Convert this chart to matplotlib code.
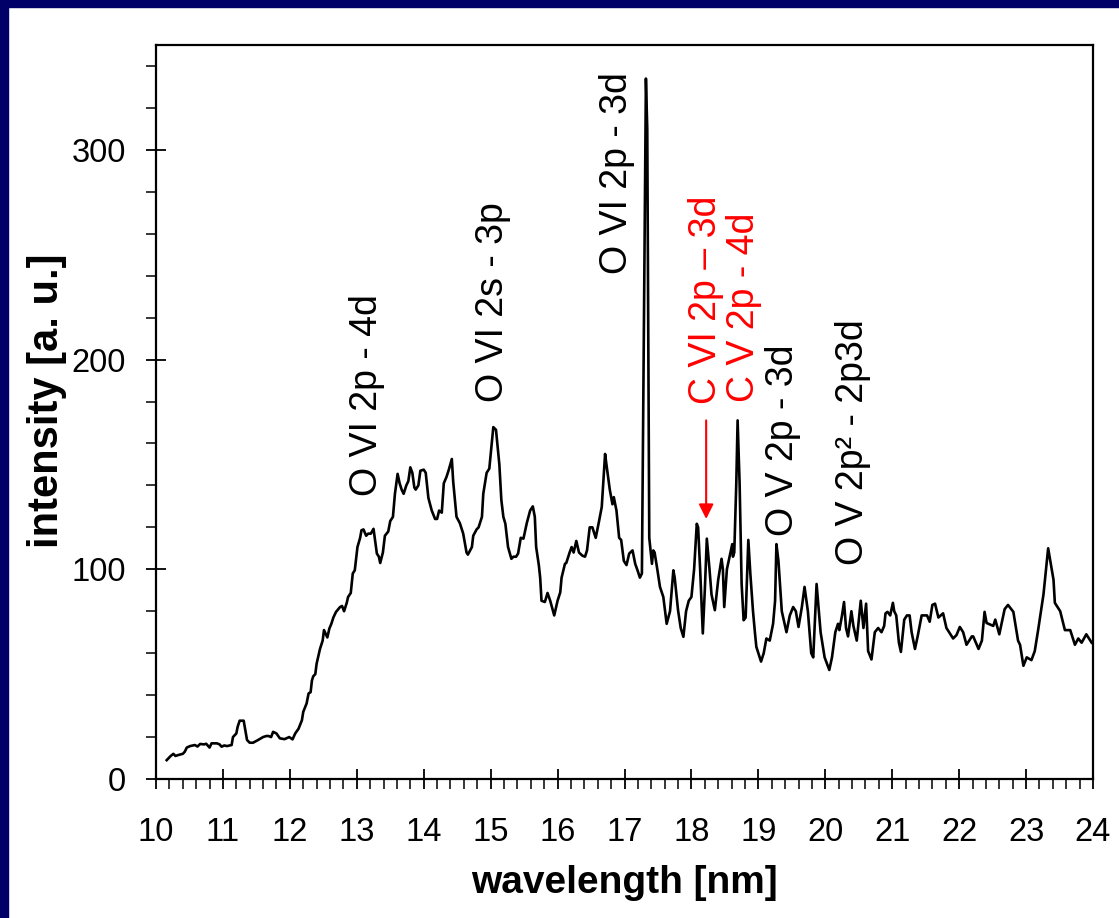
import matplotlib
matplotlib.use("Agg")
import matplotlib.pyplot as plt
from matplotlib.patches import Rectangle
from matplotlib.ticker import MultipleLocator

plt.rcParams['font.family'] = ['Liberation Sans', 'DejaVu Sans']

wavelength = [
    10.16, 10.22, 10.26, 10.29, 10.34, 10.40, 10.43, 10.46, 10.51, 10.58, 10.62, 10.66, 10.72, 10.75, 10.80,
    10.83, 10.91, 10.95, 10.98, 11.02, 11.06, 11.13, 11.15, 11.20, 11.22, 11.25, 11.31, 11.36, 11.40, 11.45,
    11.52, 11.60, 11.65, 11.68, 11.72, 11.75, 11.80, 11.85, 11.92, 11.99, 12.04, 12.08, 12.13, 12.18, 12.20,
    12.25, 12.28, 12.31, 12.33, 12.35, 12.38, 12.40, 12.45, 12.49, 12.51, 12.56, 12.59, 12.62, 12.65, 12.69,
    12.75, 12.78, 12.81, 12.85, 12.87, 12.91, 12.94, 12.97, 13.01, 13.05, 13.07, 13.10, 13.14, 13.17, 13.21,
    13.25, 13.28, 13.30, 13.33, 13.35, 13.39, 13.42, 13.47, 13.50, 13.54, 13.57, 13.61, 13.64, 13.67, 13.70,
    13.74, 13.77, 13.80, 13.83, 13.86, 13.88, 13.92, 13.95, 14.00, 14.03, 14.07, 14.12, 14.17, 14.20, 14.23,
    14.27, 14.30, 14.34, 14.38, 14.42, 14.44, 14.49, 14.54, 14.59, 14.64, 14.66, 14.72, 14.74, 14.79, 14.82,
    14.87, 14.89, 14.94, 14.98, 15.02, 15.04, 15.08, 15.13, 15.16, 15.19, 15.22, 15.26, 15.31, 15.34, 15.38,
    15.41, 15.45, 15.49, 15.54, 15.59, 15.63, 15.66, 15.68, 15.72, 15.74, 15.76, 15.81, 15.85, 15.89, 15.95,
    16.00, 16.04, 16.06, 16.11, 16.13, 16.18, 16.21, 16.24, 16.28, 16.32, 16.37, 16.41, 16.44, 16.48, 16.52,
    16.57, 16.62, 16.66, 16.71, 16.73, 16.78, 16.82, 16.84, 16.88, 16.92, 16.95, 16.99, 17.03, 17.07, 17.12,
    17.16, 17.20, 17.23, 17.26, 17.32, 17.34, 17.37, 17.41, 17.43, 17.45, 17.49, 17.53, 17.58, 17.63, 17.68,
    17.73, 17.75, 17.80, 17.84, 17.88, 17.92, 17.96, 18.00, 18.04, 18.08, 18.10, 18.13, 18.17, 18.20, 18.23,
    18.27, 18.30, 18.35, 18.40, 18.45, 18.47, 18.49, 18.53, 18.58, 18.61, 18.62, 18.64, 18.67, 18.69, 18.72,
    18.75, 18.78, 18.81, 18.85, 18.88, 18.92, 18.95, 18.97, 19.04, 19.08, 19.12, 19.17, 19.22, 19.25, 19.27,
    19.30, 19.35, 19.42, 19.47, 19.52, 19.56, 19.60, 19.65, 19.69, 19.74, 19.79, 19.82, 19.87, 19.93, 19.99,
    20.06, 20.10, 20.15, 20.19, 20.21, 20.25, 20.28, 20.31, 20.34, 20.39, 20.42, 20.47, 20.53, 20.57, 20.61,
    20.64, 20.69, 20.74, 20.79, 20.84, 20.88, 20.90, 20.93, 20.97, 21.01, 21.03, 21.06, 21.10, 21.13, 21.18,
    21.22, 21.26, 21.29, 21.34, 21.38, 21.44, 21.48, 21.52, 21.56, 21.60, 21.64, 21.69, 21.76, 21.81, 21.91,
    21.96, 22.01, 22.06, 22.11, 22.19, 22.21, 22.29, 22.34, 22.38, 22.41, 22.51, 22.54, 22.60, 22.68, 22.73,
    22.81, 22.88, 22.91, 22.96, 23.01, 23.08, 23.13, 23.18, 23.26, 23.33, 23.41, 23.43, 23.51, 23.58, 23.66,
    23.73, 23.78, 23.83, 23.90, 23.98,
]
intensity = [
    9.0, 11.0, 12.0, 11.0, 11.5, 12.0, 13.0, 15.0, 15.7, 16.2, 15.5, 16.7, 16.5, 16.8, 15.0,
    17.0, 17.0, 16.5, 15.4, 16.0, 15.7, 16.2, 20.0, 21.7, 24.9, 27.8, 27.8, 18.6, 17.3, 17.3,
    18.5, 20.0, 20.5, 20.5, 20.0, 22.5, 21.7, 19.4, 19.0, 20.0, 18.9, 21.7, 24.0, 28.0, 32.0,
    36.0, 40.8, 41.4, 47.0, 49.0, 50.0, 55.0, 62.0, 66.0, 71.0, 67.5, 71.7, 74.0, 77.0, 79.7,
    82.0, 82.5, 80.0, 84.0, 86.8, 88.7, 98.0, 99.5, 110.6, 115.0, 118.6, 119.0, 116.0, 117.0, 117.0,
    119.3, 112.0, 107.5, 106.0, 103.0, 108.0, 116.0, 118.0, 123.0, 125.0, 136.0, 145.5, 141.0, 138.0, 136.0,
    140.0, 142.0, 148.6, 146.0, 139.0, 138.0, 140.0, 147.0, 147.5, 146.0, 134.0, 128.0, 124.0, 124.0, 128.0,
    127.0, 141.0, 144.0, 148.0, 152.6, 142.0, 125.0, 122.0, 117.0, 108.0, 107.0, 110.6, 116.0, 119.0, 120.0,
    125.0, 136.0, 146.0, 148.0, 161.0, 167.8, 166.5, 150.0, 133.0, 125.0, 121.7, 110.6, 105.0, 106.0, 106.0,
    107.5, 115.0, 114.6, 122.0, 128.0, 130.0, 125.0, 110.6, 102.0, 96.0, 85.0, 84.4, 88.7, 85.0, 78.0,
    85.0, 89.0, 96.0, 102.6, 103.0, 108.0, 110.6, 108.0, 113.5, 108.0, 106.5, 106.0, 109.0, 120.0, 120.0,
    115.0, 123.0, 129.7, 155.0, 150.0, 138.0, 131.0, 134.4, 128.0, 115.0, 114.0, 104.0, 102.0, 107.5, 109.0,
    102.6, 99.0, 96.0, 98.0, 334.0, 310.0, 115.0, 102.6, 109.0, 108.0, 100.0, 91.6, 86.8, 74.0, 80.0,
    99.5, 96.0, 80.5, 72.0, 67.8, 80.0, 85.0, 86.8, 100.0, 121.7, 120.0, 100.0, 69.4, 90.0, 114.6,
    100.0, 88.0, 80.5, 95.0, 105.0, 100.0, 82.0, 100.0, 107.5, 112.0, 106.0, 108.0, 140.7, 171.0, 140.7,
    93.0, 75.7, 77.0, 114.0, 98.0, 80.0, 69.4, 63.0, 56.0, 60.0, 67.0, 66.0, 74.0, 85.0, 112.0,
    104.0, 80.0, 70.0, 78.0, 82.0, 80.0, 72.5, 82.0, 91.6, 80.0, 60.0, 58.0, 93.0, 70.0, 58.0,
    52.0, 58.0, 70.0, 74.0, 71.0, 78.0, 84.4, 72.0, 68.0, 80.0, 73.0, 66.0, 85.0, 72.0, 83.6,
    61.0, 57.0, 70.0, 72.0, 70.0, 73.0, 79.0, 79.7, 78.0, 84.0, 80.0, 78.0, 65.0, 60.6, 76.0,
    78.0, 78.0, 70.0, 62.0, 68.0, 78.0, 78.0, 78.0, 75.0, 83.0, 83.6, 77.0, 79.0, 72.0, 67.0,
    68.6, 72.5, 70.0, 64.0, 68.0, 68.0, 62.0, 66.0, 79.7, 74.4, 73.0, 76.0, 69.0, 81.0, 83.0,
    79.7, 66.0, 64.0, 54.0, 58.0, 56.7, 61.0, 71.0, 88.0, 110.0, 95.0, 84.0, 80.0, 71.0, 71.0,
    64.0, 67.0, 65.0, 69.0, 65.0,
]

# annotations: (label, x, bottom y, colour)
label_texts = ["O VI 2p - 4d", "O VI 2s - 3p", "O VI 2p - 3d", "C VI 2p \u2013 3d",
               "C V 2p - 4d", "O V 2p - 3d", "O V 2p\u00b2 - 2p3d"]
label_x = [13.15, 15.04, 16.89, 18.22, 18.79, 19.37, 20.41]
label_y = [135, 180, 241, 179, 180, 116, 102]
label_colors = ["black", "black", "black", "red", "red", "black", "black"]

arrow_x = 18.22
arrow_from = 171
arrow_to = 124

W, H = 1119, 918
fig = plt.figure(figsize=(W / 100, H / 100), dpi=100)
fig.patch.set_facecolor("white")
navy = "#000068"
fig.patches.append(Rectangle((0, 0), 8 / W, 1, transform=fig.transFigure, color=navy, zorder=0))
fig.patches.append(Rectangle((0, 1 - 7 / H), 1, 7 / H, transform=fig.transFigure, color=navy, zorder=0))

ax = fig.add_axes([156 / W, (H - 779) / H, (1093 - 156) / W, (779 - 45) / H])
ax.plot(wavelength, intensity, color="black", lw=1.9)

ax.set_xlim(10, 24)
ax.set_ylim(0, 350)
ax.xaxis.set_major_locator(MultipleLocator(1))
ax.xaxis.set_minor_locator(MultipleLocator(0.2))
ax.yaxis.set_major_locator(MultipleLocator(100))
ax.yaxis.set_minor_locator(MultipleLocator(20))
ax.tick_params(which="major", direction="inout", length=15, width=1.3, labelsize=23.5)
ax.tick_params(axis="x", which="major", pad=20)
ax.tick_params(axis="y", which="major", pad=14)
ax.tick_params(which="minor", direction="out", length=7, width=1.1)
for s in ax.spines.values():
    s.set_linewidth(1.6)

ax.set_xlabel("wavelength [nm]", fontsize=28, fontweight="bold", labelpad=12)
ax.set_ylabel("intensity [a. u.]", fontsize=30, fontweight="bold")
ax.yaxis.set_label_coords(-0.095, 0.516)

for t, x, y, c in zip(label_texts, label_x, label_y, label_colors):
    ax.text(x, y, t, rotation=90, ha="center", va="bottom", fontsize=27, color=c)

ax.annotate("", xy=(arrow_x, arrow_to), xytext=(arrow_x, arrow_from),
            arrowprops=dict(arrowstyle="-|>", color="red", lw=1.5, mutation_scale=22,
                            shrinkA=0, shrinkB=0))

fig.savefig("out.png", dpi=100)
